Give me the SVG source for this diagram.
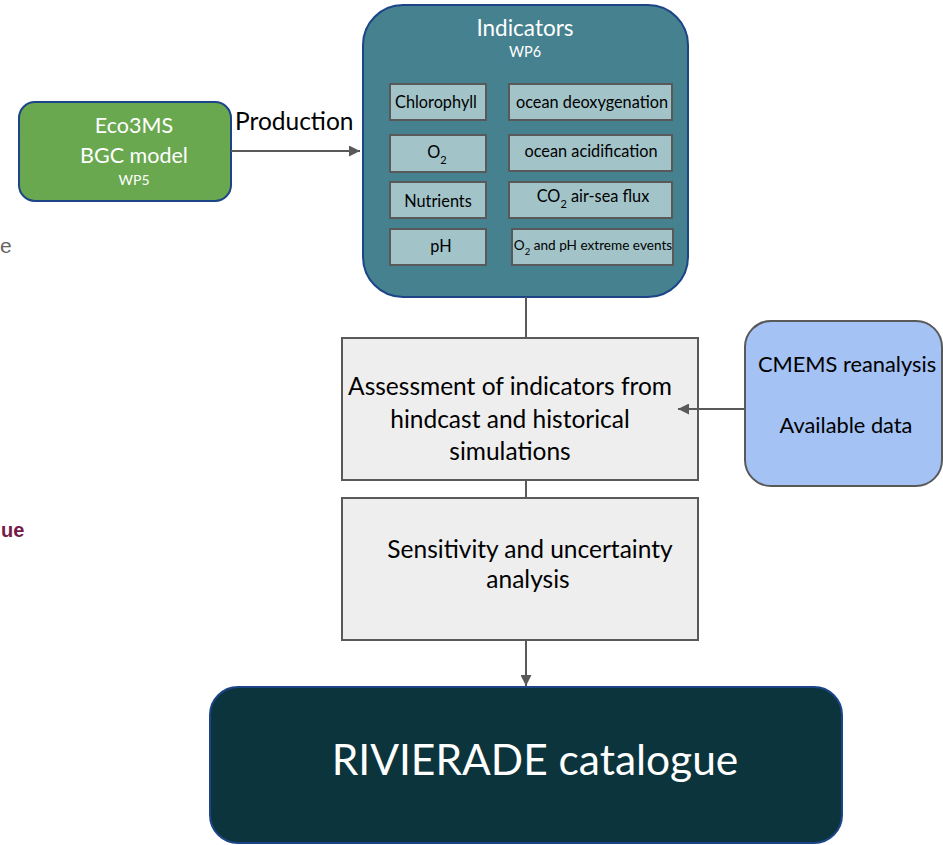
<svg xmlns="http://www.w3.org/2000/svg" width="943" height="845" viewBox="0 0 943 845">
<defs>
<marker id="ah" viewBox="0 0 10 10" refX="10" refY="5" markerWidth="12" markerHeight="11" orient="auto" markerUnits="userSpaceOnUse">
<path d="M0,0 L10,5 L0,10 z" fill="#595959"/>
</marker>
</defs>
<style>
text{font-family:Lato,"Liberation Sans",sans-serif;}
.w{fill:#ffffff;}
.k{fill:#000000;}
.ind{fill:#a2c4c9;stroke:#595959;stroke-width:2;}
.gr{fill:#eeeeee;stroke:#595959;stroke-width:2;}
.con{stroke:#595959;stroke-width:2;fill:none;}
.c{text-anchor:middle;}
</style>
<rect width="943" height="845" fill="#ffffff"/>
<text x="0" y="253" font-size="21" fill="#666666" style="font-family:'Liberation Sans',Arial,sans-serif">e</text>
<text x="1" y="537" font-size="20" font-weight="bold" fill="#741b47" style="font-family:'Liberation Sans',Arial,sans-serif">ue</text>

<g id="eco3ms">
<rect x="19" y="102" width="212" height="99" rx="16" fill="#6aa84f" stroke="#1c4587" stroke-width="2"/>
<text class="w c" x="134" y="133" font-size="21.5">Eco3MS</text>
<text class="w c" x="134" y="163" font-size="21.5">BGC model</text>
<text class="w c" x="134" y="185" font-size="14">WP5</text>
</g>
<text id="production" class="k" x="235" y="130" font-size="24.5">Production</text>

<g id="indicators">
<rect x="363" y="5" width="325" height="292" rx="40" fill="#45818e" stroke="#1c4587" stroke-width="2"/>
<text class="w c" x="525" y="36" font-size="22.5">Indicators</text>
<text class="w c" x="525" y="57" font-size="14.5">WP6</text>
</g>
<g id="chlorophyll">
<rect class="ind" x="390" y="84" width="96" height="36"/>
<text class="k c" x="436" y="108" font-size="16.3">Chlorophyll</text>
</g>
<g id="o2">
<rect class="ind" x="390" y="135" width="96" height="37"/>
<text class="k c" x="437" y="158" font-size="16.3">O<tspan font-size="11" dy="6">2</tspan></text>
</g>
<g id="nutrients">
<rect class="ind" x="390" y="182" width="96" height="36"/>
<text class="k c" x="438" y="207" font-size="16.3">Nutrients</text>
</g>
<g id="ph">
<rect class="ind" x="390" y="229" width="96" height="36"/>
<text class="k c" x="441" y="252" font-size="16.3">pH</text>
</g>
<g id="deoxygenation">
<rect class="ind" x="509" y="84" width="163" height="36"/>
<text class="k c" x="592" y="108" font-size="16.3">ocean deoxygenation</text>
</g>
<g id="acidification">
<rect class="ind" x="509" y="135" width="163" height="36"/>
<text class="k c" x="591" y="157" font-size="16.3">ocean acidification</text>
</g>
<g id="co2flux">
<rect class="ind" x="509" y="182" width="163" height="36"/>
<text class="k c" x="593" y="202" font-size="16.3">CO<tspan font-size="11" dy="6">2</tspan><tspan dy="-6"> air-sea flux</tspan></text>
</g>
<g id="extreme">
<rect class="ind" x="512" y="229" width="161" height="36"/>
<text class="k c" x="593" y="250" font-size="13.6">O<tspan font-size="9.5" dy="5">2</tspan><tspan dy="-5"> and pH extreme events</tspan></text>
</g>

<g id="assessment">
<rect class="gr" x="342" y="338" width="356" height="142"/>
<text class="k c" x="510" y="395" font-size="24.5">Assessment of indicators from</text>
<text class="k c" x="510" y="428" font-size="24.5">hindcast and historical</text>
<text class="k c" x="510" y="460" font-size="24.5">simulations</text>
</g>

<g id="cmems">
<rect x="745" y="321" width="197" height="165" rx="26" fill="#a4c2f4" stroke="#595959" stroke-width="2"/>
<text class="k c" x="847" y="372" font-size="21.8">CMEMS reanalysis</text>
<text class="k c" x="846" y="433" font-size="21.8">Available data</text>
</g>

<g id="sensitivity">
<rect class="gr" x="342" y="498" width="356" height="142"/>
<text class="k c" x="530" y="558" font-size="24.5">Sensitivity and uncertainty</text>
<text class="k c" x="528" y="588" font-size="24.5">analysis</text>
</g>

<g id="catalogue">
<rect x="210" y="687" width="632" height="156" rx="28" fill="#0c343d" stroke="#1c4587" stroke-width="2"/>
<text class="w c" x="535" y="775" font-size="42.5">RIVIERADE catalogue</text>
</g>

<g id="connectors">
<line class="con" x1="231" y1="151" x2="360" y2="151" marker-end="url(#ah)"/>
<line class="con" x1="526" y1="297" x2="526" y2="337"/>
<line class="con" x1="744" y1="409" x2="678" y2="409" marker-end="url(#ah)"/>
<line class="con" x1="526" y1="481" x2="526" y2="497"/>
<line class="con" x1="526" y1="641" x2="526" y2="686" marker-end="url(#ah)"/>
</g>
</svg>
